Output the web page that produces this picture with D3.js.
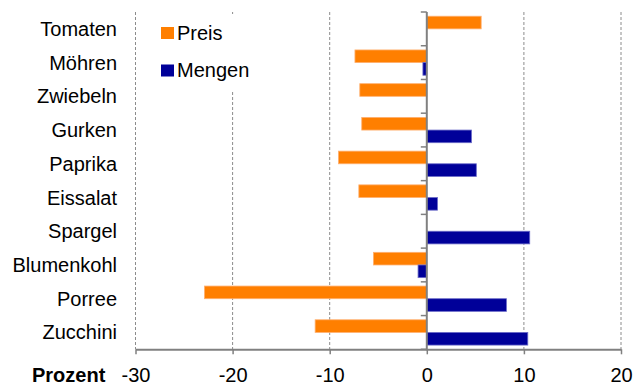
<!DOCTYPE html>
<html>
<head>
<meta charset="utf-8">
<script src="https://cdn.jsdelivr.net/npm/d3@7"></script>
<style>
  html, body { margin: 0; padding: 0; background: #fff; }
  svg { display: block; font-family: Arial, "Liberation Sans", sans-serif; }
</style>
</head>
<body>
<svg id="chart" width="642" height="385"></svg>
<script>
// Veränderung von Preis und Mengen je Gemüseart, in Prozent
const categories = ["Tomaten", "Möhren", "Zwiebeln", "Gurken", "Paprika",
                    "Eissalat", "Spargel", "Blumenkohl", "Porree", "Zucchini"];
const preis  = [5.6, -7.4, -6.9, -6.7, -9.1, -7.0, 0, -5.5, -22.9, -11.5];
const mengen = [0, -0.4, 0, 4.6, 5.1, 1.1, 10.6, -0.9, 8.2, 10.4];
const seriesNames = ["Preis", "Mengen"];
const xTicks = [-30, -20, -10, 0, 10, 20];
const axisTitle = "Prozent";

const colors = { Preis: "#FF7F00", Mengen: "#000099" };
const edge = { Preis: "#FFB070", Mengen: "#6A6AC8" };
const fontSize = "20px";

const svg = d3.select("#chart");
const plotLeft = 135.5, plotRight = 621, plotTop = 12, plotBottom = 349.3;

const x = d3.scaleLinear().domain([-30, 20]).range([plotLeft, plotRight]);
const y = d3.scaleBand().domain(categories).range([plotTop, plotBottom])
  .paddingInner(0.25).paddingOuter(0.125);
const ySub = d3.scaleBand().domain(seriesNames).range([0, y.bandwidth()]);

const rows = categories.map((c, i) => ({ cat: c, Preis: preis[i], Mengen: mengen[i] }));

// dashed vertical gridlines
svg.append("g").selectAll("line")
  .data(xTicks.filter(t => t !== 0))
  .join("line")
  .attr("x1", d => x(d)).attr("x2", d => x(d))
  .attr("y1", plotTop).attr("y2", plotBottom)
  .attr("stroke", "#8c8c8c").attr("stroke-width", 1)
  .attr("stroke-dasharray", "3,2");

// bars
const groups = svg.append("g").selectAll("g")
  .data(rows).join("g")
  .attr("transform", d => `translate(0,${y(d.cat)})`);

groups.selectAll("rect")
  .data(d => seriesNames.map(s => ({ s, v: d[s] })).filter(e => e.v !== 0))
  .join("rect")
  .attr("x", e => x(Math.min(0, e.v)))
  .attr("width", e => Math.abs(x(e.v) - x(0)))
  .attr("y", e => ySub(e.s))
  .attr("height", ySub.bandwidth())
  .attr("fill", e => colors[e.s])
  .attr("stroke", e => edge[e.s])
  .attr("stroke-width", 0.8);

// bottom axis, labels with a plain hyphen for negatives
const xAxis = svg.append("g")
  .attr("transform", `translate(0,${plotBottom})`)
  .call(d3.axisBottom(x).tickValues(xTicks).tickFormat(d => String(d))
    .tickSize(5).tickPadding(14).tickSizeOuter(0));
xAxis.select(".domain").attr("stroke", "#808080").attr("stroke-width", 2);
xAxis.selectAll(".tick line").attr("stroke", "#808080").attr("stroke-width", 1.5);
xAxis.selectAll(".tick text")
  .attr("font-size", fontSize).attr("fill", "#000")
  .attr("font-family", "Arial, 'Liberation Sans', sans-serif");

// zero axis with tick marks between categories
const zeroAxis = svg.append("g");
const bounds = categories.map(c => y(c) - y.step() * y.paddingInner() / 2).concat([plotBottom]);
bounds[0] = plotTop;
zeroAxis.selectAll("line.tk").data(bounds).join("line")
  .attr("class", "tk")
  .attr("x1", x(0) - 6).attr("x2", x(0))
  .attr("y1", d => d).attr("y2", d => d)
  .attr("stroke", "#808080").attr("stroke-width", 1.5);
zeroAxis.append("line")
  .attr("x1", x(0)).attr("x2", x(0))
  .attr("y1", plotTop).attr("y2", plotBottom + 1)
  .attr("stroke", "#808080").attr("stroke-width", 2);

// category labels
svg.append("g").selectAll("text")
  .data(categories).join("text")
  .attr("x", 117)
  .attr("y", d => y(d) + y.bandwidth() / 2)
  .attr("dy", "0.35em")
  .attr("text-anchor", "end")
  .attr("font-size", fontSize)
  .attr("fill", "#000")
  .text(d => d);

// axis title
svg.append("text")
  .attr("x", 32).attr("y", 382)
  .attr("font-size", fontSize).attr("font-weight", "bold")
  .attr("fill", "#000")
  .text(axisTitle);

// legend
const legend = svg.append("g");
legend.append("rect")
  .attr("x", 150).attr("y", 14).attr("width", 105).attr("height", 77)
  .attr("fill", "#fff");
const items = legend.selectAll("g.item").data(seriesNames).join("g")
  .attr("class", "item")
  .attr("transform", (d, i) => `translate(161,${27 + i * 37.5})`);
items.append("rect")
  .attr("width", 13).attr("height", 12)
  .attr("fill", d => colors[d]);
items.append("text")
  .attr("x", 16).attr("y", 12.5)
  .attr("font-size", fontSize).attr("fill", "#000")
  .text(d => d);
</script>
</body>
</html>
